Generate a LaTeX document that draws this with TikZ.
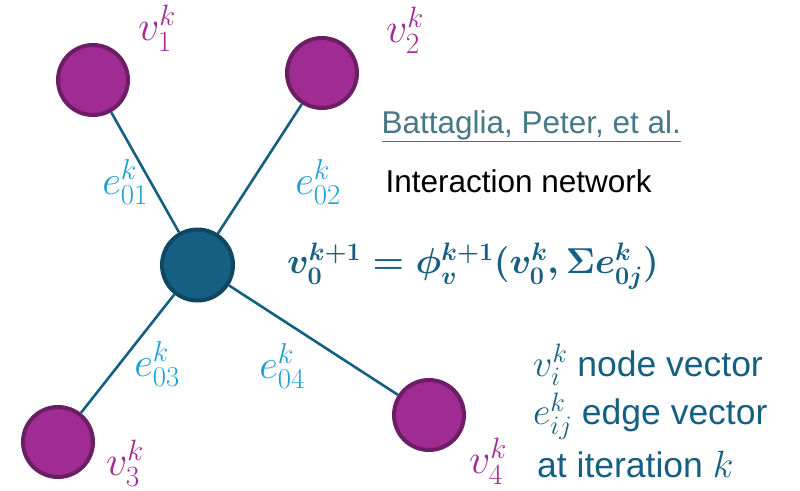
\RequirePackage{fix-cm}
\documentclass[tikz,border=0pt]{standalone}
\usepackage{bm}
\usepackage{fontspec}
\setmainfont{Liberation Sans}
\usetikzlibrary{positioning}

\definecolor{nodepurple}{HTML}{A02B93}
\definecolor{nodeborder}{HTML}{6B1E63}
\definecolor{hubblue}{HTML}{156082}
\definecolor{hubborder}{HTML}{0F4761}
\definecolor{edgecyan}{HTML}{1A9FD6}
\definecolor{linkteal}{HTML}{467886}

\newcommand{\bigmath}[1]{{\fontsize{38}{38}\selectfont$#1$}}

\begin{document}
\begin{tikzpicture}[
  x=1pt, y=-1pt,
  leaf/.style={circle, draw=nodeborder, fill=nodepurple, line width=4pt, minimum size=70pt, inner sep=0pt},
  hub/.style={circle, draw=hubborder, fill=hubblue, line width=4pt, minimum size=71pt, inner sep=0pt},
  link/.style={hubblue, line width=2.6pt},
  vlab/.style={text=nodepurple, font=\fontsize{42}{44}\selectfont, inner sep=0pt},
  elab/.style={text=edgecyan, font=\fontsize{41}{44}\selectfont, inner sep=0pt},
  keytext/.style={text=hubblue, font=\fontsize{35.5}{40}\selectfont, anchor=west, inner sep=0pt},
  ]
  \useasboundingbox (0,0) rectangle (800,490);

  % --- nodes ---
  \node[hub]  (c)  at (197.5,265) {};
  \node[leaf] (v1) at (93,80) {};
  \node[leaf] (v2) at (322,73) {};
  \node[leaf] (v3) at (58,442) {};
  \node[leaf] (v4) at (429,415) {};

  % --- edges ---
  \foreach \i in {1,2,3,4}
    \draw[link] (c) -- (v\i);

  % --- node labels ---
  \node[vlab] (l1) at (157,28) {$v_1^k$};
  \node[vlab] (l2) at (405,30) {$v_2^k$};
  \node[vlab] (l3) at (125,463) {$v_3^k$};
  \node[vlab] (l4) at (488,461) {$v_4^k$};

  % --- edge labels ---
  \node[elab] (e1) at (125,182) {$e_{01}^k$};
  \node[elab] (e2) at (318,182) {$e_{02}^k$};
  \node[elab] (e3) at (157,364) {$e_{03}^k$};
  \node[elab] (e4) at (282,366) {$e_{04}^k$};

  % --- reference and update rule ---
  \node[text=linkteal, font=\fontsize{31.5}{36}\selectfont, anchor=west] (ref) at (378,126)
    {\underline{Battaglia, Peter, et al.}};
  \node[font=\fontsize{31.5}{36}\selectfont, anchor=west] (title) at (382,181)
    {Interaction network};
  \node[text=hubblue, font=\fontsize{36}{40}\selectfont\boldmath] (rule) at (473,266)
    {$v_0^{k+1} = \phi_v^{k+1}(v_0^k, \Sigma e_{0j}^k)$};

  % --- legend ---
  \node[keytext] (key1) at (533,365) {\bigmath{v_i^k} node vector};
  \node[keytext] (key2) at (533,416) {\bigmath{e_{ij}^k} edge vector};
  \node[keytext] (key3) at (537,464) {at iteration \bigmath{k}};
\end{tikzpicture}
\end{document}
